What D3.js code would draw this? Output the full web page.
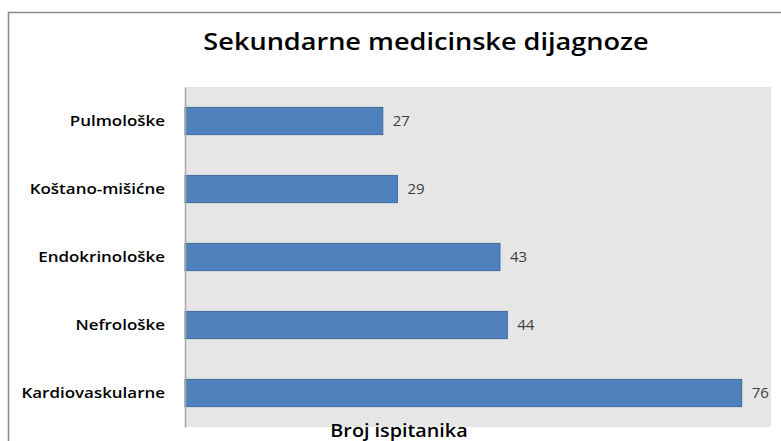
<!DOCTYPE html>
<html>
<head>
<meta charset="utf-8">
<script src="https://cdn.jsdelivr.net/npm/d3@7"></script>
<style>
  body { margin: 0; background: #fff; }
  svg { display: block; }
</style>
</head>
<body>
<svg id="chart"></svg>
<script>
// categories top to bottom and their counts
var categories = ["Pulmološke", "Koštano-mišićne", "Endokrinološke", "Nefrološke", "Kardiovaskularne"];
var values = [27, 29, 43, 44, 76];
var xMax = 80;

var W = 781, H = 441;
var plot = {left: 185, top: 87, right: 771, bottom: 427};
var stretch = 1.13; // the original text looks a bit wide

var svg = d3.select("#chart")
    .attr("width", W)
    .attr("height", H);

// outer chart border (cut off at right and bottom)
svg.append("rect")
    .attr("x", 8.5)
    .attr("y", 12.5)
    .attr("width", W)
    .attr("height", H)
    .attr("fill", "#fff")
    .attr("stroke", "#8c8c8c")
    .attr("stroke-width", 1.5);

var x = d3.scaleLinear()
    .domain([0, xMax])
    .range([plot.left, plot.right]);

var y = d3.scaleBand()
    .domain(categories)
    .range([plot.top, plot.bottom])
    .paddingInner(0.6)
    .paddingOuter(0.3);

// plot area
svg.append("rect")
    .attr("x", plot.left)
    .attr("y", plot.top)
    .attr("width", plot.right - plot.left)
    .attr("height", plot.bottom - plot.top)
    .attr("fill", "#e6e6e6");

// title
svg.append("text")
    .attr("transform", "translate(426,50) scale(" + stretch + ",1)")
    .attr("text-anchor", "middle")
    .style("font-family", "'Open Sans', sans-serif")
    .style("font-weight", 600)
    .style("font-size", "24px")
    .attr("fill", "#000")
    .text("Sekundarne medicinske dijagnoze");

var rows = categories.map(function(c, i) { return {name: c, value: values[i]}; });

// bars
svg.selectAll(".bar")
    .data(rows)
  .enter().append("rect")
    .attr("class", "bar")
    .attr("x", x(0))
    .attr("y", function(d) { return y(d.name); })
    .attr("width", function(d) { return x(d.value) - x(0); })
    .attr("height", y.bandwidth())
    .attr("fill", "#4f81bd")
    .attr("stroke", "#3d6b9f")
    .attr("stroke-width", 1);

// value labels
svg.selectAll(".val")
    .data(rows)
  .enter().append("text")
    .attr("class", "val")
    .attr("x", function(d) { return x(d.value) + 10; })
    .attr("y", function(d) { return y(d.name) + y.bandwidth() / 2; })
    .attr("dy", "0.36em")
    .style("font-family", "'Open Sans', sans-serif")
    .style("font-size", "15px")
    .attr("fill", "#404040")
    .text(function(d) { return d.value; });

// category axis
var yAxis = svg.append("g")
    .attr("transform", "translate(" + plot.left + ",0)")
    .call(d3.axisLeft(y).tickSize(0));
yAxis.select(".domain")
    .attr("stroke", "#a6a6a6")
    .attr("stroke-width", 1.5);
yAxis.selectAll("text")
    .attr("x", 0)
    .attr("dy", "0.36em")
    .attr("transform", "translate(-20,0) scale(" + stretch + ",1)")
    .style("font-family", "'Open Sans', sans-serif")
    .style("font-weight", 600)
    .style("font-size", "15px")
    .attr("fill", "#000");

// x axis title
svg.append("text")
    .attr("transform", "translate(399,437) scale(" + stretch + ",1)")
    .attr("text-anchor", "middle")
    .style("font-family", "'Open Sans', sans-serif")
    .style("font-weight", 600)
    .style("font-size", "17.5px")
    .attr("fill", "#000")
    .text("Broj ispitanika");
</script>
</body>
</html>
